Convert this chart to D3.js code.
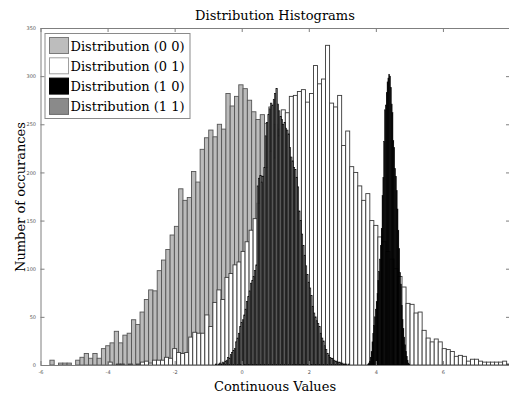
<html>
<script src="https://d3js.org/d3.v7.min.js"></script>
<style>
body {margin: 0; background: #fff;}
.lbl {font-family: "DejaVu Serif", serif; fill: #000;}
.axis text {font-family: "DejaVu Sans", sans-serif; font-size: 5px; fill: #555;}
.axis path, .axis line {stroke: #7f7f7f; stroke-width: 1;}
</style>
<body>
<svg width=509 height=396></svg>
<script>
var categories = ["Distribution (0 0)", "Distribution (0 1)", "Distribution (1 0)", "Distribution (1 1)"];

// bin start / bin width / counts for each histogram
var start00 = -5.72, step00 = 0.128;
var counts00 = [5,0,2,2,2,0,5,8,12,7, 12,7,17,20,23,35,23,31,33,47,
  42,55,68,78,77,98,109,120,135,144, 183,171,174,201,190,224,236,244,237,250,
  245,282,269,279,291,287,275,263,255,260, 251,268,250,245,240,238,236,235,216,200,
  180,158,159,144,124,114,97,100,83,84, 62,50,40,47,33,22,15,12,8,6,
  5,4,3,4,3,2,2,1,2,1, 0,1,0,0,1,0,0,0,0,1];

var start01 = -3.98, step01 = 0.12;
var counts01 = [3,0,1,1,0,1,0,1,3,4, 2,5,5,5,8,7,17,13,12,13,
  29,34,33,33,52,40,65,78,68,91, 95,104,107,118,128,140,152,168,196,205,
  222,215,238,265,262,279,280,284,286,273, 282,311,292,297,332,272,268,280,228,243,
  206,200,186,171,178,150,145,133,128,118, 110,100,92,81,64,63,54,55,36,28,
  24,27,24,17,16,14,9,10,9,4, 6,6,4,3,3,3,3,3,4,1];

var start10 = 3.76, step10 = 0.025;
var counts10 = [1,2,4,8,14,24,33,41,50,58, 66,74,88,97,110,124,142,176,195,232,
  265,270,283,294,298,302,300,288,271,262, 233,226,204,196,181,162,140,121,96,84,
  62,47,38,29,21,14,9,5,2,1];

var start11 = -0.78, step11 = 0.04;
var counts11 = [1,0,1,2,1,3,2,4,5,8, 7,11,13,15,17,24,28,33,40,44,
  47,52,58,66,71,77,85,88,92,98, 104,186,194,197,190,196,205,238,252,260,
  266,272,270,276,282,287,271,264,258,255, 250,252,246,244,240,226,216,212,205,203,
  195,185,160,150,136,124,114,103,94,86, 80,72,61,54,50,46,43,40,33,28,
  25,20,16,12,10,8,7,7,5,4, 4,3,3,2,2,1,1,1,0,1];

var xTicks = [-6,-4,-2,0,2,4,6];
var yTicks = [0,50,100,150,200,250,300,350];

var svg = d3.select("svg");
var xs = d3.scaleLinear().domain([-6, 8]).range([40.5, 510]);
var ys = d3.scaleLinear().domain([0, 350]).range([365, 28]);
var plain = function(d) { return String(d); };

function drawHist(counts, start, step, fill, stroke, sw) {
  var bins = counts.map(function(c, i) {
    return {c: c, x0: start + i*step, x1: start + (i+1)*step};
  }).filter(function(d) { return d.c > 0; });
  svg.append("g").selectAll("rect")
    .data(bins)
    .enter()
    .append("rect")
    .attr("x", function(d) { return xs(d.x0); })
    .attr("width", function(d) { return xs(d.x1) - xs(d.x0); })
    .attr("y", function(d) { return ys(d.c); })
    .attr("height", function(d) { return ys(0) - ys(d.c); })
    .style("fill", fill)
    .style("stroke", stroke)
    .style("stroke-width", sw);
}

drawHist(counts00, start00, step00, "#bbbbbb", "#555", 0.9);
drawHist(counts01, start01, step01, "#ffffff", "#3a3a3a", 0.9);
drawHist(counts10, start10, step10, "#000000", "#000", 0.5);
drawHist(counts11, start11, step11, "#7a7a7a", "#000", 0.6);

// axes box
svg.append("g").attr("class", "axis").attr("transform", "translate(0,365)")
  .call(d3.axisBottom(xs).tickValues(xTicks).tickSize(-4).tickSizeOuter(0).tickPadding(5).tickFormat(plain));
svg.append("g").attr("class", "axis").attr("transform", "translate(0,28)")
  .call(d3.axisTop(xs).tickValues(xTicks).tickSize(-4).tickSizeOuter(0).tickFormat(""));
svg.append("g").attr("class", "axis").attr("transform", "translate(40.5,0)")
  .call(d3.axisLeft(ys).tickValues(yTicks).tickSize(-4).tickSizeOuter(0).tickPadding(4.5).tickFormat(plain));
svg.append("g").attr("class", "axis").attr("transform", "translate(510,0)")
  .call(d3.axisRight(ys).tickValues(yTicks).tickSize(-4).tickSizeOuter(0).tickFormat(""));

// legend
var swFill = ["#bdbdbd", "#ffffff", "#000000", "#8a8a8a"];
var swStroke = ["#7a7a7a", "#a0a0a0", "#000000", "#6a6a6a"];
var lg = svg.append("g");
lg.append("rect").attr("x", 45).attr("y", 33.5).attr("width", 145).attr("height", 85)
  .style("fill", "#fff").style("stroke", "#8a8a8a");
categories.forEach(function(c, i) {
  lg.append("rect").attr("x", 49.5).attr("y", 37.5 + i*20.3).attr("width", 19).attr("height", 16)
    .style("fill", swFill[i]).style("stroke", swStroke[i]);
  lg.append("text").attr("class", "lbl").attr("x", 70.5).attr("y", 50.5 + i*20.3)
    .style("font-size", "13px").text(c);
});

// title and axis labels
svg.append("text").attr("class", "lbl").attr("x", 275).attr("y", 19.5)
  .style("text-anchor", "middle").style("font-size", "13px").text("Distribution Histograms");
svg.append("text").attr("class", "lbl").attr("x", 275).attr("y", 391)
  .style("text-anchor", "middle").style("font-size", "13px").text("Continuous Values");
svg.append("text").attr("class", "lbl")
  .attr("transform", "translate(25,197) rotate(-90)")
  .style("text-anchor", "middle").style("font-size", "13px").text("Number of occurances");
</script>
</body>
</html>
